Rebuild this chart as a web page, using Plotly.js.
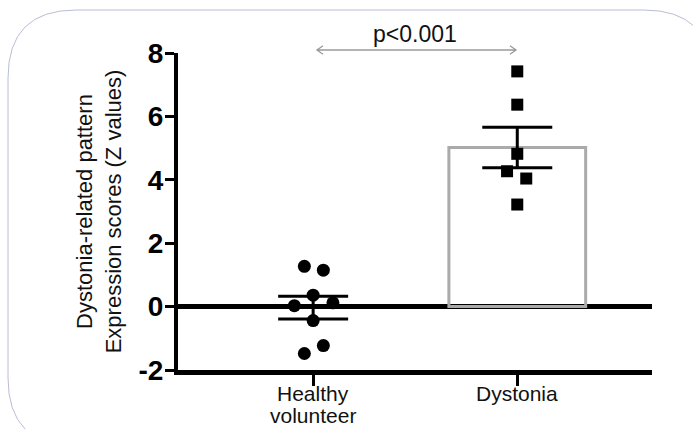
<!DOCTYPE html>
<html>
<head>
<meta charset="utf-8">
<script src="https://cdn.plot.ly/plotly-3.0.1.min.js"></script>
<style>html,body{margin:0;padding:0;background:#fff;}#chart{width:693px;height:429px;}</style>
</head>
<body>
<div id="chart"></div>
<script>
// ---- data ----
const categories = ["Healthy<br>volunteer", "Dystonia"];
const categoryPos = [1, 2];
const healthyValues = [1.27, 1.15, 0.36, 0.03, 0.12, -0.44, -1.23, -1.48];
const healthyJitter = [-0.043, 0.05, 0, -0.092, 0.097, 0, 0.05, -0.043];
const dystoniaValues = [7.42, 6.37, 4.82, 4.27, 4.04, 3.22];
const dystoniaJitter = [0, 0, 0, -0.05, 0.044, 0];
const groupMeans = [-0.03, 5.02];
const groupSEM = [0.36, 0.64];
const barOutline = ["rgba(0,0,0,0)", "#aaaaaa"];
const yTicks = [-2, 0, 2, 4, 6, 8];
const pLabel = "p<0.001";

// ---- layout helpers (pixel -> paper) ----
const W = 693, H = 429;
const mL = 178, mR = 41, mT = 53, mB = 59;
const pw = W - mL - mR, ph = H - mT - mB;
const px = x => ((x - mL) / pw).toFixed(4);
const py = y => ((H - mB - y) / ph).toFixed(4);

// rounded frame path
const fx0 = 8, fy0 = 10, fx1 = 712, fy1 = 446, r = 68;
const framePath =
  `M ${px(fx0)} ${py(fy0 + r)} Q ${px(fx0)} ${py(fy0)} ${px(fx0 + r)} ${py(fy0)} ` +
  `L ${px(fx1 - r)} ${py(fy0)} Q ${px(fx1)} ${py(fy0)} ${px(fx1)} ${py(fy0 + r)} ` +
  `L ${px(fx1)} ${py(fy1 - r)} Q ${px(fx1)} ${py(fy1)} ${px(fx1 - r)} ${py(fy1)} ` +
  `L ${px(fx0 + r)} ${py(fy1)} Q ${px(fx0)} ${py(fy1)} ${px(fx0)} ${py(fy1 - r)} Z`;

// comparison arrow (between the two groups, just above the axis top)
const ax0 = 317, ax1 = 516, ay = 50, ah = 6;
const arrowPath =
  `M ${px(ax0)} ${py(ay)} L ${px(ax1)} ${py(ay)} ` +
  `M ${px(ax0 + ah)} ${py(ay - ah * 0.7)} L ${px(ax0)} ${py(ay)} L ${px(ax0 + ah)} ${py(ay + ah * 0.7)} ` +
  `M ${px(ax1 - ah)} ${py(ay - ah * 0.7)} L ${px(ax1)} ${py(ay)} L ${px(ax1 - ah)} ${py(ay + ah * 0.7)}`;

const traces = [
  {
    type: "bar", x: categoryPos, y: groupMeans, width: 0.67,
    marker: { color: "rgba(255,255,255,0)", line: { color: barOutline, width: 3 } },
    hoverinfo: "skip", showlegend: false
  },
  {
    type: "scatter", mode: "markers",
    x: healthyValues.map((v, i) => categoryPos[0] + healthyJitter[i]),
    y: healthyValues,
    marker: { symbol: "circle", size: 13, color: "#000" },
    showlegend: false, cliponaxis: false
  },
  {
    type: "scatter", mode: "markers",
    x: dystoniaValues.map((v, i) => categoryPos[1] + dystoniaJitter[i]),
    y: dystoniaValues,
    marker: { symbol: "square", size: 12, color: "#000" },
    showlegend: false, cliponaxis: false
  },
  {
    type: "scatter", mode: "markers", x: categoryPos, y: groupMeans,
    marker: { size: 1, color: "rgba(0,0,0,0)" },
    error_y: { type: "data", array: groupSEM, visible: true, color: "#000", thickness: 3, width: 35 },
    showlegend: false, hoverinfo: "skip"
  }
];

// category labels: one annotation per text line so the line spacing can follow the reference
const catAnnotations = [];
categories.forEach((c, i) => {
  c.split("<br>").forEach((line, k) => {
    catAnnotations.push({
      xref: "x", yref: "paper", x: categoryPos[i], y: 0, yshift: -23 - 22 * k, yanchor: "middle",
      text: line, showarrow: false, font: { size: 21, color: "#111" }
    });
  });
});

const layout = {
  width: W, height: H,
  margin: { l: mL, r: mR, t: mT, b: mB },
  paper_bgcolor: "#fff", plot_bgcolor: "#fff",
  font: { family: "Liberation Sans, Arial, sans-serif", color: "#111" },
  showlegend: false,
  xaxis: {
    range: [0.338, 2.66], tickvals: categoryPos, ticktext: ["", ""],
    showgrid: false, zeroline: false,
    showline: true, linecolor: "#000", linewidth: 5,
    ticks: "outside", ticklen: 11, tickwidth: 3, tickcolor: "#000",
    fixedrange: true
  },
  yaxis: {
    range: [-2, 8], tickvals: yTicks, ticktext: yTicks.map(String),
    showgrid: false, zeroline: true, zerolinecolor: "#000", zerolinewidth: 5,
    showline: true, linecolor: "#000", linewidth: 4,
    ticks: "outside", ticklen: 9, tickwidth: 3, tickcolor: "#000",
    ticklabelstandoff: -4,
    tickfont: { size: 28, color: "#000", weight: "bold" },
    title: { text: "Dystonia-related pattern<br>Expression scores (Z values)", font: { size: 22, color: "#111" }, standoff: 12 },
    fixedrange: true
  },
  shapes: [
    { type: "path", xref: "paper", yref: "paper", path: framePath, line: { color: "#b9bdd6", width: 1 }, fillcolor: "rgba(0,0,0,0)", layer: "below" },
    { type: "path", xref: "paper", yref: "paper", path: arrowPath, line: { color: "#9a9a9a", width: 1.3 } }
  ],
  annotations: [
    { xref: "x", yref: "paper", x: 1.5, y: 1, yshift: 19, yanchor: "middle", text: pLabel, showarrow: false,
      font: { size: 23, color: "#111" } }
  ].concat(catAnnotations)
};

Plotly.newPlot("chart", traces, layout, { staticPlot: true, displayModeBar: false });
</script>
</body>
</html>
